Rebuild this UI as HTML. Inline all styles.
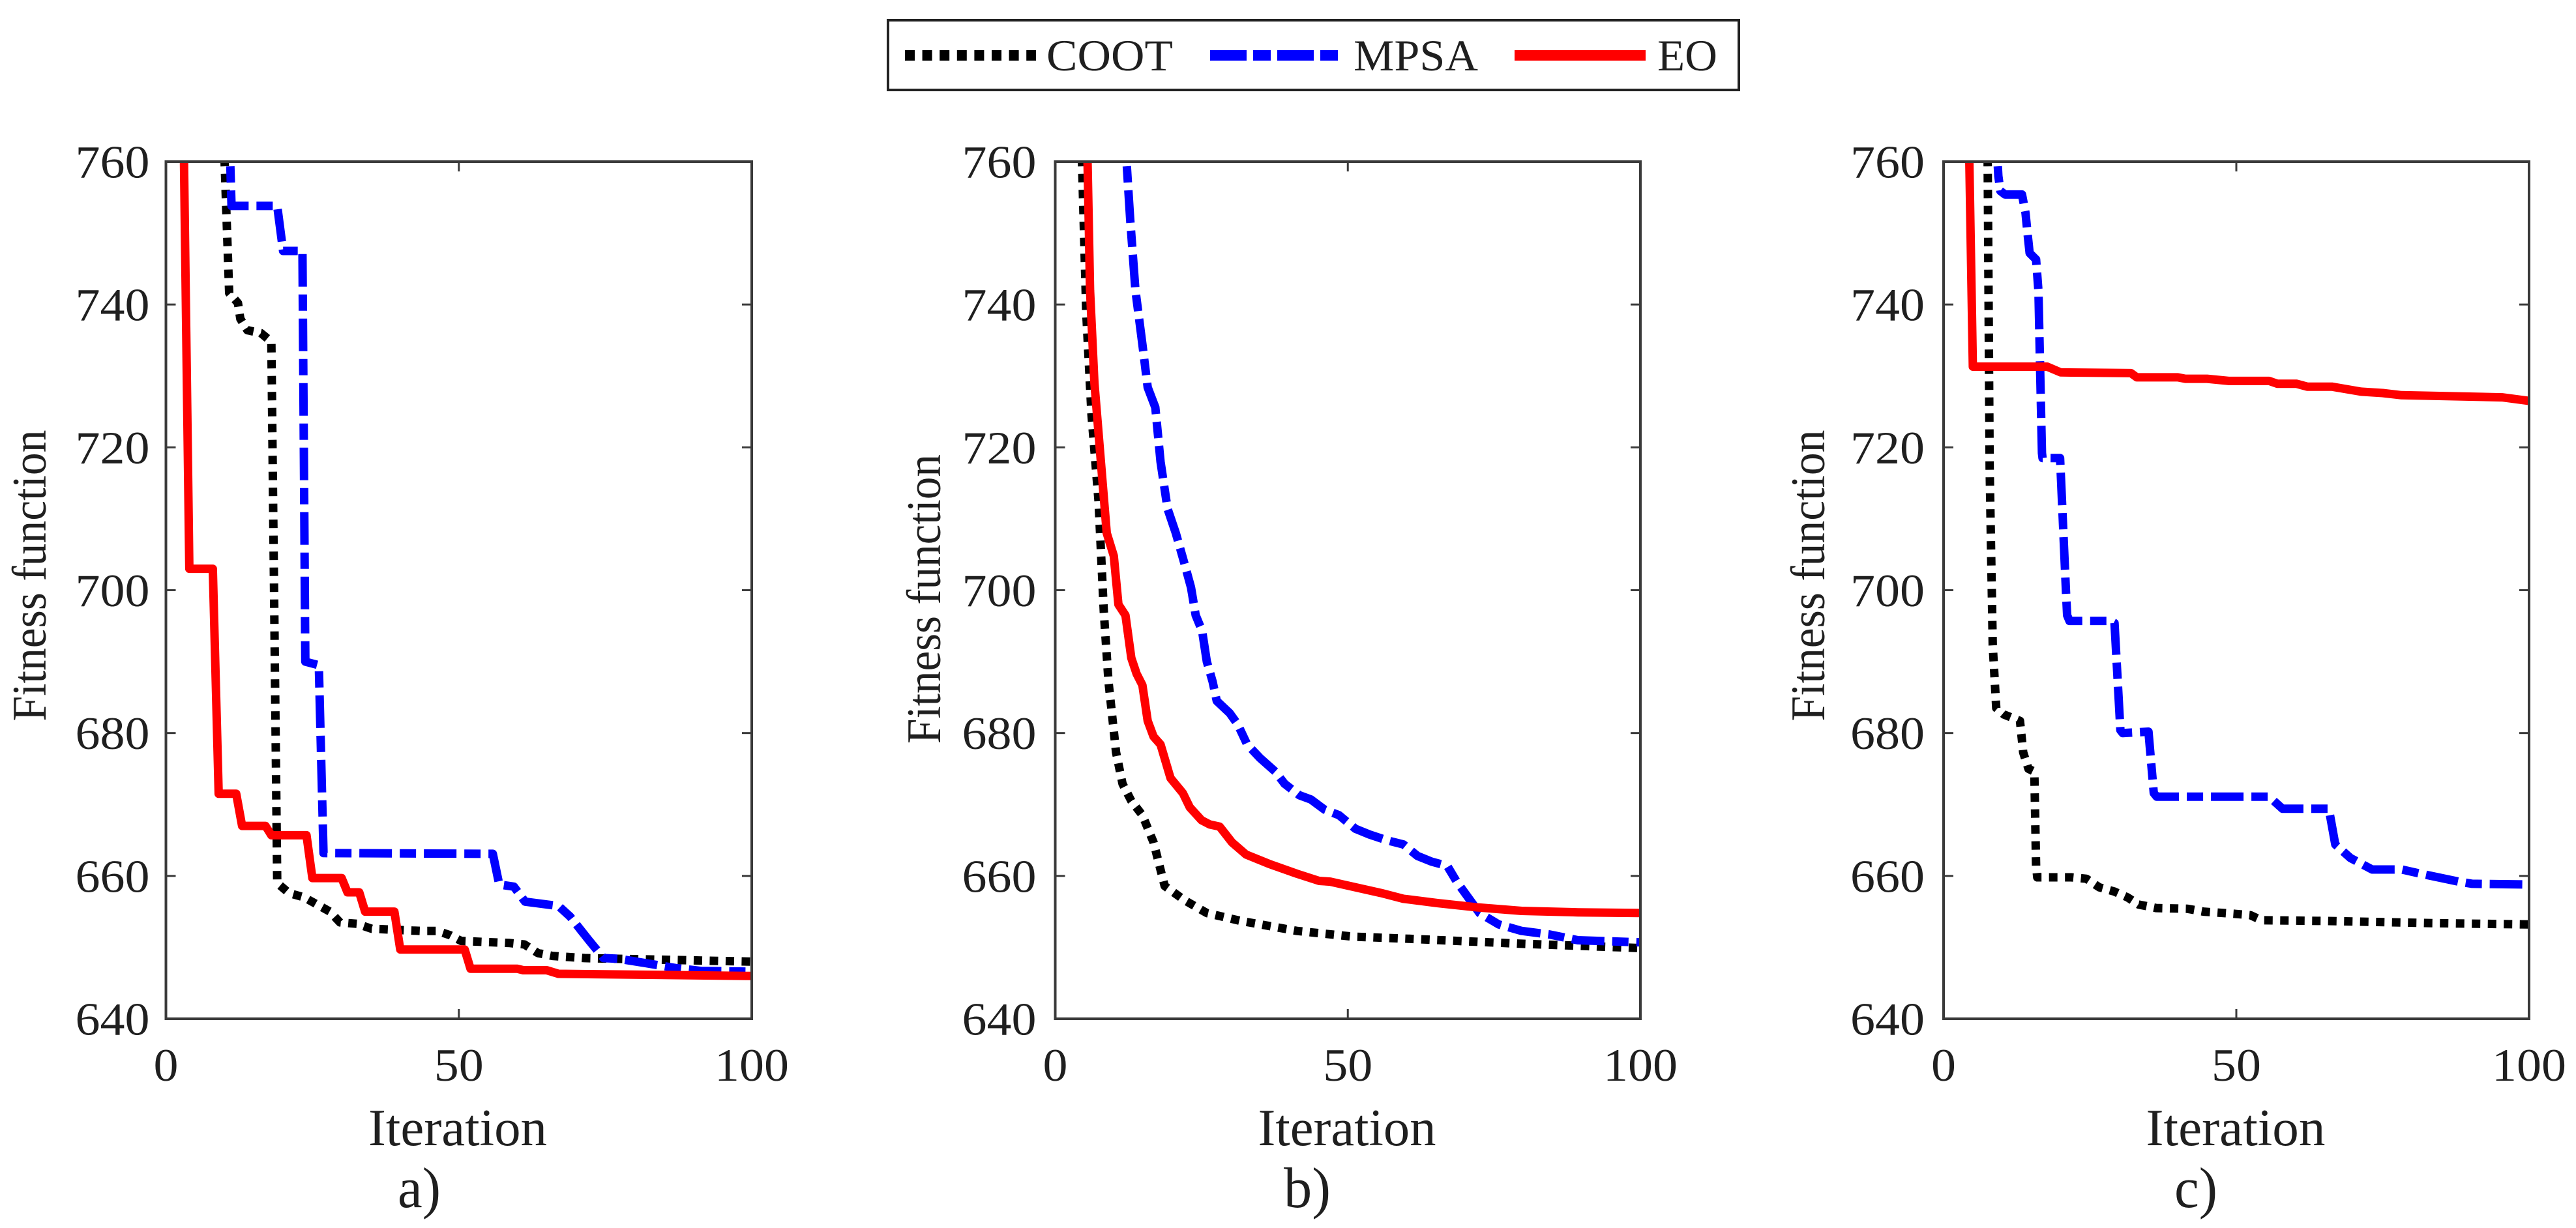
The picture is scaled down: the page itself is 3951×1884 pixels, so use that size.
<!DOCTYPE html>
<html lang="en">
<head>
<meta charset="utf-8">
<title>Fitness function convergence curves</title>
<style>
html,body{margin:0;padding:0;background:#fff;width:3951px;height:1884px;overflow:hidden}
svg{display:block}
text{font-family:"Liberation Serif",serif;fill:#1f1f1f}
</style>
</head>
<body>
<svg id="figure" xmlns="http://www.w3.org/2000/svg" width="3951" height="1884" viewBox="0 0 3951 1884">
  <rect x="0" y="0" width="3951" height="1884" fill="#fff"/>
  <g>
    <rect x="1362" y="31" width="1305" height="107" fill="#fff" stroke="#222" stroke-width="4"/>
    <line x1="1388" y1="85" x2="1589" y2="85" stroke="#000" stroke-width="16" stroke-dasharray="15 11.6"/>
    <text x="1605" y="108" font-size="68" textLength="194" lengthAdjust="spacingAndGlyphs">COOT</text>
    <line x1="1856" y1="85" x2="2055" y2="85" stroke="#0000ff" stroke-width="16" stroke-dasharray="56 10 27 10"/>
    <text x="2076" y="108" font-size="68" textLength="191" lengthAdjust="spacingAndGlyphs">MPSA</text>
    <line x1="2323" y1="85" x2="2524" y2="85" stroke="#ff0000" stroke-width="16"/>
    <text x="2542" y="108" font-size="68" textLength="92" lengthAdjust="spacingAndGlyphs">EO</text>
  </g>
</svg>
<script>
const xTickValues = [0, 50, 100];
const yTickValues = [640, 660, 680, 700, 720, 740, 760];

const cootIterA = [9.8,10.8,12.3,12.7,13.9,16.2,18,19,21,23.6,25.8,28,29.7,32.6,35.1,43.4,46.3,48.5,50.4,58.7,61.2,63.5,66,71.5,100];
const cootFitA = [765,741.6,740.2,738,736.4,736,734.8,659,657.6,657,656,655,653.5,653.3,652.6,652.3,652.3,651.7,650.9,650.6,650.4,649.2,648.8,648.5,648];
const mpsaIterA = [10.8,11.2,19,20,23.3,23.8,26.1,26.9,55.8,56.9,59.4,61.3,67,69,72.2,74.7,77.3,81.8,87,91.3,100];
const mpsaFitA = [765,753.8,753.8,747.5,747.5,690,689.5,663.2,663.1,658.8,658.5,656.4,655.8,654.3,651,648.5,648.4,647.8,647.1,646.7,646.6];
const eoIterA = [3,4,8,9,12,13,17,18,24,25,30,31,33,34,39,40,51,52,60,61,65,67,100];
const eoFitA = [765,703,703,671.5,671.5,667,667,665.7,665.7,659.7,659.7,657.7,657.7,655,655,649.7,649.7,647,647,646.8,646.8,646.3,646];

const cootIterB = [4.4,5.3,6.2,7.4,8.3,9.1,10.4,11.5,13,14.9,16.8,18.7,22.1,25.9,31.7,41.3,50.9,60.5,79.7,100];
const cootFitB = [765,738.8,724.6,712.5,697,687.2,677.3,672.9,670.5,668.5,664.7,658.6,656.6,654.8,653.7,652.3,651.5,651.2,650.5,649.9];
const mpsaIterB = [11.8,12.8,13.7,14.9,15.8,17.1,18,19.2,20.6,22.1,23.2,24,25.1,25.9,26.9,27.6,29.8,31.2,32.8,35,37.6,39.2,41.7,43.7,46,48.5,51.3,53.7,56.6,59.5,61.9,64.3,67,68.6,72.5,75.8,79.7,84.5,89.3,100];
const mpsaFitB = [765,752,742,734.4,728.4,725.6,718,711.4,708,703.7,700.4,696.5,694.3,690,687.2,684.5,682.8,681.2,678.4,676.5,674.6,672.9,671.3,670.7,669.3,668.5,666.6,665.8,665,664.4,662.8,662,661.4,659.2,654.8,653.2,652.3,651.8,651,650.7];
const eoIterB = [5.4,5.95,6.7,7.7,8.8,10,10.8,12,13,13.9,14.9,15.8,16.8,18,19.7,21.8,23,25,26.4,28.1,30.2,32.6,36.5,41.3,45.1,47,55.7,59.5,65.3,72,79.7,89.3,100];
const eoFitB = [765,742,729,719,708,704.8,698,696.5,690.5,688.3,686.7,681.7,679.5,678.4,673.7,671.6,669.6,667.8,667.2,666.9,664.7,663,661.7,660.3,659.3,659.2,657.6,656.8,656.2,655.6,655.1,654.9,654.8];

const cootIterC = [7.5,7.87,8.4,9,10.3,13.05,13.6,14.5,15.5,15.8,16,21.8,24.4,26.6,29.2,31.4,33.3,36.3,41.6,44.4,49.6,52.4,54.3,64.9,83.4,100];
const cootFitC = [765,717,692.3,683.5,682.6,681.7,677.3,675,674.6,661.4,659.8,659.8,659.6,658.4,657.8,657,656,655.5,655.4,655,654.7,654.5,653.8,653.7,653.4,653.2];
const mpsaIterC = [8.9,9.35,9.7,10.5,13.4,14,14.3,14.7,15.8,16.2,16.8,16.9,19.9,20.9,21.1,21.5,28.5,29.2,30.2,30.6,35,35.9,36.4,55.6,57.9,65.8,66.9,69.5,73.2,78.3,81.5,88,90.3,100];
const mpsaFitC = [765,758,755.9,755.4,755.4,752.8,750.3,747.2,746.3,741.9,719.2,718.5,718.5,699.9,696.5,695.7,695.7,695.4,680.4,680,680.2,671.6,671.1,671.1,669.4,669.4,664.4,662.5,660.9,660.9,660.3,659.2,658.9,658.8];
const eoIterC = [4.3,5,17.7,20,32,33,40,41.3,45,48.7,55.6,57,60.3,62.1,66.3,71.3,75,78.2,95.4,100];
const eoFitC = [765,731.3,731.3,730.5,730.4,729.8,729.8,729.6,729.6,729.3,729.3,728.9,728.9,728.5,728.5,727.8,727.6,727.3,727,726.5];

const NS = 'http://www.w3.org/2000/svg';
const svg = document.getElementById('figure');
const X_MIN = 0, X_MAX = 100, Y_MIN = 640, Y_MAX = 760;
const TOP = 248, BOTTOM = 1563, TICK = 15;

const panels = [
  { id:'a', left:254.5, right:1153, labelGap:25, caption:'a)', capX:610, capLen:66, ylX:70, ylY:883, ylLen:447, xlX:702, xlLen:274,
    coot:[cootIterA,cootFitA], mpsa:[mpsaIterA,mpsaFitA], eo:[eoIterA,eoFitA] },
  { id:'b', left:1618.5, right:2516, labelGap:29, caption:'b)', capX:1969, capLen:72, ylX:1442, ylY:919, ylLen:444, xlX:2066, xlLen:273,
    coot:[cootIterB,cootFitB], mpsa:[mpsaIterB,mpsaFitB], eo:[eoIterB,eoFitB] },
  { id:'c', left:2981, right:3879, labelGap:29, caption:'c)', capX:3335, capLen:66, ylX:2798, ylY:883, ylLen:447, xlX:3429, xlLen:275,
    coot:[cootIterC,cootFitC], mpsa:[mpsaIterC,mpsaFitC], eo:[eoIterC,eoFitC] }
];

function make(tag, attrs, parent) {
  const el = document.createElementNS(NS, tag);
  for (const k in attrs) el.setAttribute(k, attrs[k]);
  parent.appendChild(el);
  return el;
}
function yScale(v) { return BOTTOM - (v - Y_MIN) / (Y_MAX - Y_MIN) * (BOTTOM - TOP); }

panels.forEach(function (p) {
  const xScale = function (v) { return p.left + (v - X_MIN) / (X_MAX - X_MIN) * (p.right - p.left); };

  const g = make('g', {}, svg);
  
  

  const defs = make('defs', {}, g);
  const clip = make('clipPath', { id: 'clip-' + p.id }, defs);
  make('rect', { x: p.left, y: TOP, width: p.right - p.left, height: BOTTOM - TOP }, clip);

  const seriesList = [
    { key: 'coot', color: '#000000', dash: '13 11.5' },
    { key: 'mpsa', color: '#0000ff', dash: '50 12 25 12' },
    { key: 'eo', color: '#ff0000', dash: '' }
  ];
  seriesList.forEach(function (s) {
    const iters = p[s.key][0];
    const fits = p[s.key][1];
    const pts = iters.map(function (it, i) { return xScale(it).toFixed(1) + ',' + yScale(fits[i]).toFixed(1); }).join(' ');
    const line = make('polyline', {
      points: pts, fill: 'none', stroke: s.color, 'stroke-width': 13,
      'stroke-linejoin': 'round', 'clip-path': 'url(#clip-' + p.id + ')'
    }, g);
    if (s.dash) line.setAttribute('stroke-dasharray', s.dash);
    
    
  });

  const frame = make('rect', { x: p.left, y: TOP, width: p.right - p.left, height: BOTTOM - TOP, fill: 'none', stroke: '#3a3a3a', 'stroke-width': 4 }, g);
  
  

  yTickValues.forEach(function (v) {
    const y = yScale(v);
    if (v !== Y_MIN && v !== Y_MAX) {
      const t1 = make('line', { x1: p.left, x2: p.left + TICK, y1: y, y2: y, stroke: '#3a3a3a', 'stroke-width': 3 }, g);
      
      
      const t2 = make('line', { x1: p.right, x2: p.right - TICK, y1: y, y2: y, stroke: '#3a3a3a', 'stroke-width': 3 }, g);
      
      
    }
    const lab = make('text', { x: p.left - p.labelGap, y: y + 24.5, 'font-size': 71, 'text-anchor': 'end', textLength: 114, lengthAdjust: 'spacingAndGlyphs' }, g);
    lab.textContent = String(v);
    
    
  });

  xTickValues.forEach(function (v) {
    const x = xScale(v);
    if (v !== X_MIN && v !== X_MAX) {
      const t1 = make('line', { x1: x, x2: x, y1: BOTTOM, y2: BOTTOM - TICK, stroke: '#3a3a3a', 'stroke-width': 3 }, g);
      
      
      const t2 = make('line', { x1: x, x2: x, y1: TOP, y2: TOP + TICK, stroke: '#3a3a3a', 'stroke-width': 3 }, g);
      
      
    }
    const str = String(v);
    const lab = make('text', { x: x, y: 1658, 'font-size': 71, 'text-anchor': 'middle', textLength: 38 * str.length, lengthAdjust: 'spacingAndGlyphs' }, g);
    lab.textContent = str;
    
    
  });

  const xl = make('text', { x: p.xlX, y: 1757, 'font-size': 80, 'text-anchor': 'middle', textLength: p.xlLen, lengthAdjust: 'spacingAndGlyphs' }, g);
  xl.textContent = 'Iteration';
  
  

  const yl = make('text', { x: 0, y: 0, 'font-size': 74, 'text-anchor': 'middle', textLength: p.ylLen, lengthAdjust: 'spacingAndGlyphs', transform: 'translate(' + p.ylX + ',' + p.ylY + ') rotate(-90)' }, g);
  yl.textContent = 'Fitness function';
  
  

  const cap = make('text', { x: p.capX, y: 1852, 'font-size': 88, textLength: p.capLen, lengthAdjust: 'spacingAndGlyphs' }, g);
  cap.textContent = p.caption;
  
  
});
</script>
</body>
</html>
